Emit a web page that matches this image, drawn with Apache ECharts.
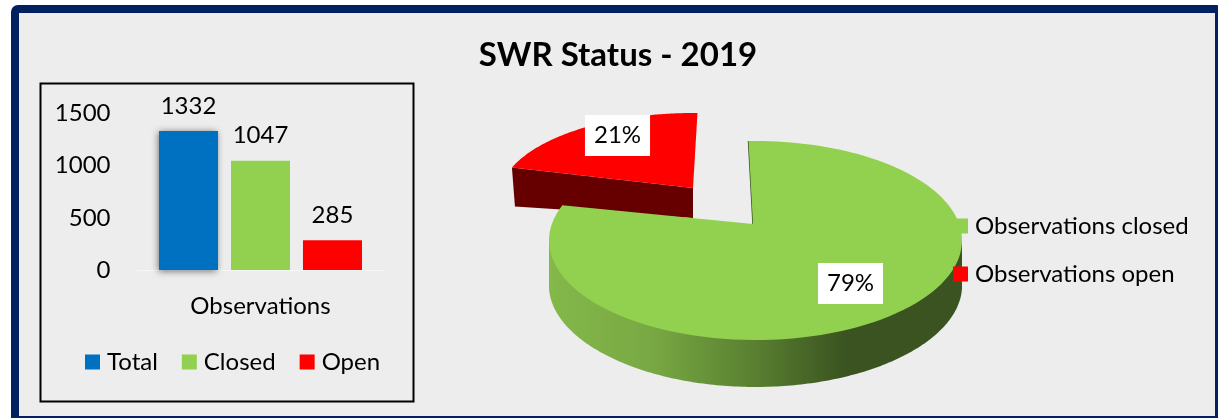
<!DOCTYPE html>
<html><head><meta charset="utf-8">
<style>html,body{margin:0;padding:0;background:#fff}#c{width:1218px;height:418px}</style>
<script src="https://cdn.jsdelivr.net/npm/echarts@6/dist/echarts.min.js"></script>
</head><body><div id="c"></div>
<script>
const titleText = 'SWR Status - 2019';
const categories = ['Observations'];
const barNames = ['Total', 'Closed', 'Open'];
const totalValues = [1332];
const closedValues = [1047];
const openValues = [285];
const pieNames = ['Observations closed', 'Observations open'];
const pieValues = [1047, 285];
const yTicks = [0, 500, 1000, 1500];

const FONT = 'Lato, "Open Sans", sans-serif';
const FS = 24;
const BLUE = '#0070C0', GREEN = '#92D050', RED = '#FF0000';
const pieSum = pieValues[0] + pieValues[1];
const closedSweep = pieValues[0] / pieSum * 360;

// perspective view of a pie: ray from an off-centre apex to a normalised ellipse
function rayPoint(g, deg) {
  const a = deg * Math.PI / 180, dx = Math.sin(a), dy = -Math.cos(a);
  const b = g.ox * dx + g.oy * dy, c = g.ox * g.ox + g.oy * g.oy - 1;
  const s = -b + Math.sqrt(b * b - c);
  return [g.cx + g.rx * (g.ox + s * dx), g.cy + g.ry * (g.oy + s * dy)];
}
function arc(g, from, to) {
  const pts = [], n = 120;
  for (let i = 0; i <= n; i++) pts.push(rayPoint(g, from + (to - from) * i / n));
  return pts;
}
const mainGeo = { cx: 755.5, cy: 240.5, rx: 206.5, ry: 99.5, ox: -0.012, oy: -0.166, depth: 47 };
const redGeo = { cx: 693, cy: 198, rx: 194, ry: 85, ox: 0, oy: -0.118, dL: 39, dR: 30 };
const START = -1.5;

function pctLabel(v, cx, cy) {
  return { type: 'text', z2: 50, x: cx, y: cy, style: {
    text: Math.round(v / pieSum * 100) + '%', fill: '#000', font: FS + 'px ' + FONT,
    align: 'center', verticalAlign: 'middle', backgroundColor: '#fff',
    padding: [9, 9, 8, 9] } };
}
function renderClosed(params, api) {
  const g = mainGeo, v = api.value(0);
  const sweep = v / pieSum * 360;
  const top = arc(g, START, START + sweep);
  const apex = [g.cx + g.rx * g.ox, g.cy + g.ry * g.oy];
  const wall = [];
  for (let i = 0; i <= 180; i++) {
    const t = (90 + i) * Math.PI / 180;
    const x = g.cx + (g.rx - 4 * Math.abs(Math.cos(t))) * Math.sin(t);
    const y = g.cy + g.depth - g.ry * Math.cos(t);
    wall.push([x, y]);
  }
  wall.unshift([g.cx + g.rx, g.cy]);
  wall.push([g.cx - g.rx, g.cy]);
  return { type: 'group', children: [
    { type: 'polygon', shape: { points: wall }, style: { fill: {
        type: 'linear', x: 0, y: 0, x2: 1, y2: 0, colorStops: [
          { offset: 0, color: '#84B84A' }, { offset: 0.25, color: '#78A843' },
          { offset: 0.5, color: '#597F30' }, { offset: 0.72, color: '#3A5320' },
          { offset: 1, color: '#3A5320' }] } } },
    { type: 'polyline', shape: { points: [top[0], apex] }, style: { stroke: '#3A5320', lineWidth: 1.5, fill: 'none' } },
    { type: 'polygon', shape: { points: [apex].concat(top) }, style: { fill: GREEN } },
    pctLabel(v, 850.5, 283.5)
  ] };
}
function renderOpen(params, api) {
  const g = redGeo, v = api.value(0);
  const from = closedSweep + START + 3;
  const top = arc(g, from, from + v / pieSum * 360);
  const apex = [g.cx + g.rx * g.ox, g.cy + g.ry * g.oy];
  const L = top[0];
  const wall = [L, apex, [apex[0], apex[1] + g.dR], [L[0] + 3, L[1] + g.dL]];
  return { type: 'group', children: [
    { type: 'polygon', shape: { points: wall }, style: { fill: '#660000' } },
    { type: 'polygon', shape: { points: [apex].concat(top) }, style: { fill: RED } },
    pctLabel(v, 617.5, 135.5)
  ] };
}
function barSeries(name, values, color, extra) {
  return Object.assign({
    type: 'bar', name, data: values, barWidth: 59, barGap: '22%',
    itemStyle: { color },
    label: { show: true, position: 'top', distance: 13, color: '#000', fontFamily: FONT, fontSize: FS }
  }, extra || {});
}
const chart = echarts.init(document.getElementById('c'), null, { renderer: 'canvas' });
chart.setOption({
  animation: false,
  backgroundColor: '#fff',
  title: { text: titleText, left: 613, top: 34, textAlign: 'center',
    textStyle: { fontFamily: FONT, fontWeight: 'bold', fontSize: 33, color: '#000' } },
  graphic: [
    { type: 'rect', z: -10, silent: true, shape: { x: 15, y: 9, width: 1204, height: 411, r: 3 },
      style: { fill: '#EDEDED', stroke: '#002060', lineWidth: 8 } },
    { type: 'rect', z: -9, silent: true, shape: { x: 40.5, y: 83.5, width: 373, height: 318 },
      style: { fill: 'none', stroke: '#000', lineWidth: 2 } }
  ],
  legend: [
    { data: barNames, left: 80, top: 345, itemWidth: 15, itemHeight: 15, itemGap: 24, icon: 'rect',
      textStyle: { fontFamily: FONT, fontSize: FS, color: '#000', padding: [0, 0, 0, 2] } },
    { data: pieNames, left: 948, top: 209, orient: 'vertical', itemWidth: 15, itemHeight: 15, itemGap: 24, icon: 'rect', z: 20,
      textStyle: { fontFamily: FONT, fontSize: FS, color: '#000', padding: [0, 0, 0, 2] } }
  ],
  grid: { left: 137.5, top: 113.5, width: 246, height: 156.5 },
  xAxis: { type: 'category', data: categories,
    axisLine: { lineStyle: { color: '#F7F7F7', width: 1 } }, axisTick: { show: false },
    axisLabel: { color: '#000', fontFamily: FONT, fontSize: FS, margin: 24 } },
  yAxis: { type: 'value', min: yTicks[0], max: yTicks[3], interval: yTicks[1],
    axisLine: { show: false }, axisTick: { show: false }, splitLine: { show: false },
    axisLabel: { color: '#000', fontFamily: FONT, fontSize: FS, margin: 27, formatter: v => String(v) } },
  series: [
    barSeries(barNames[0], totalValues, BLUE, { itemStyle: { color: BLUE, shadowColor: 'rgba(0,0,0,0.55)', shadowBlur: 7, shadowOffsetX: -1, shadowOffsetY: 1 } }),
    barSeries(barNames[1], closedValues, GREEN),
    barSeries(barNames[2], openValues, RED),
    { type: 'custom', name: pieNames[1], coordinateSystem: 'none', z: 3, itemStyle: { color: RED },
      data: [[pieValues[1]]], renderItem: renderOpen, silent: true },
    { type: 'custom', name: pieNames[0], coordinateSystem: 'none', z: 4, itemStyle: { color: GREEN },
      data: [[pieValues[0]]], renderItem: renderClosed, silent: true }
  ]
});
</script></body></html>
